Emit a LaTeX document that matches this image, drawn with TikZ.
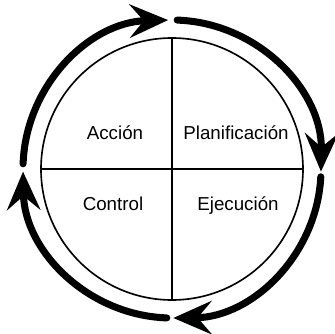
\documentclass[tikz,border=0pt]{standalone}
\usepackage{fontspec}
\setmainfont{Liberation Sans}
\usetikzlibrary{arrows.meta}

\begin{document}
\begin{tikzpicture}[
    x=0.03cm, y=0.03cm,
    phase/.style={font=\fontsize{16}{19}\selectfont, anchor=base, inner sep=0pt},
    ring/.style={line width=1.4pt},
    divider/.style={line width=0.9pt},
    cycle arrow/.style={line width=6pt, line cap=round, -{Stealth[length=1.15cm, width=1.0cm, inset=0.42cm]}}
]
    \useasboundingbox (0,0) rectangle (335,333);
    \coordinate (c) at (172,164);

    % Inner circle and quadrants
    \draw[ring] (c) circle[radius=131];
    \draw[divider] (c) ++(90:131) coordinate (top) -- ++(0,-262) coordinate (bot);
    \draw[divider] (c) ++(180:131) coordinate (lft) -- ++(262,0) coordinate (rgt);

    % Phases
    \node[phase] (accion) at (115,193) {Acción};
    \node[phase] (plan) at (236,193) {Planificación};
    \node[phase] (control) at (113,122) {Control};
    \node[phase] (ejec) at (238,122) {Ejecución};

    % Outer cycle
    \foreach \s/\e in {178/91.5, 88/-1, -3/-89.5, -92/-179}
        \draw[cycle arrow] (c) ++(\s:149) arc[start angle=\s, end angle=\e, radius=149];
\end{tikzpicture}
\end{document}
